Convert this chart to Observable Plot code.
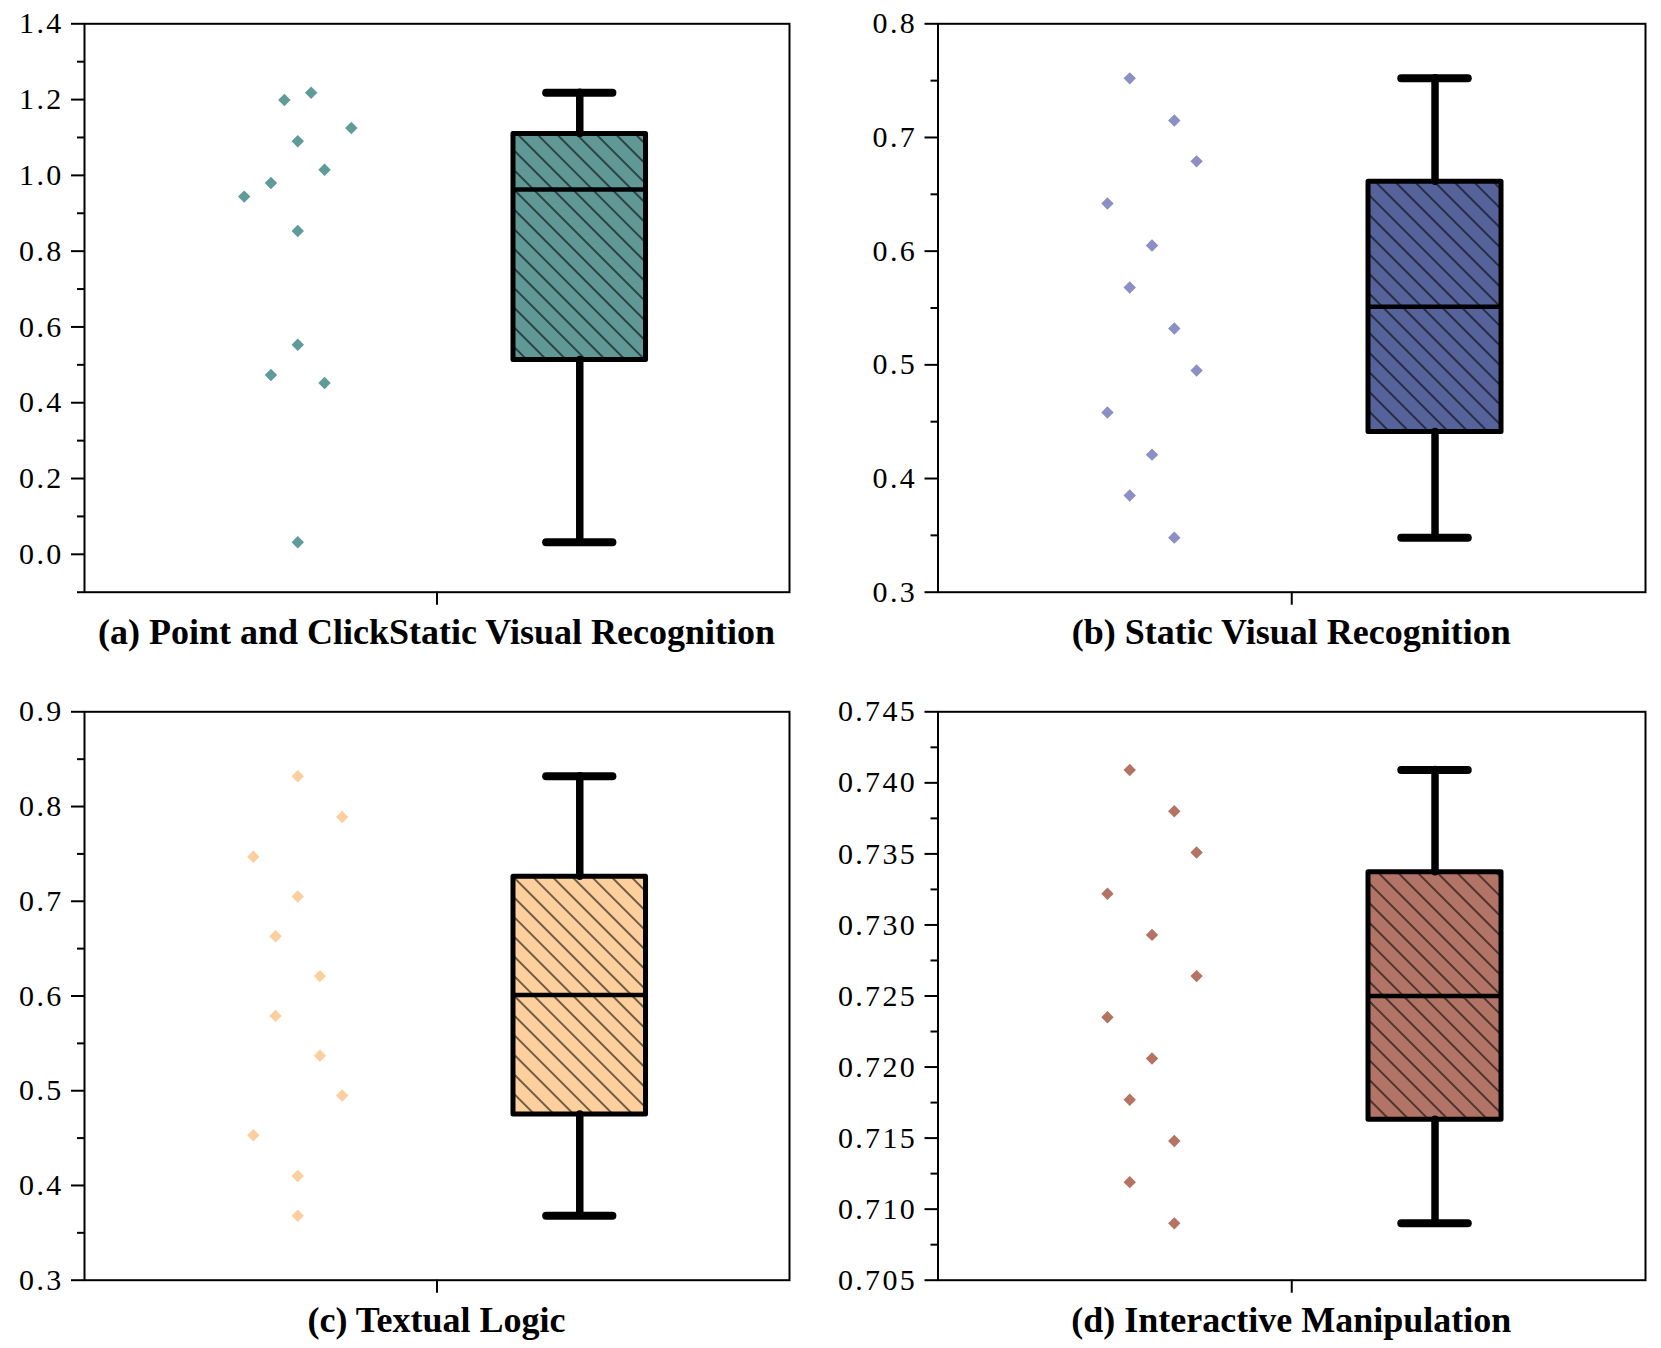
<!DOCTYPE html>
<html>
<head>
<meta charset="utf-8">
<script src="https://cdn.jsdelivr.net/npm/d3@7"></script>
<script src="https://cdn.jsdelivr.net/npm/@observablehq/plot@0.6"></script>
<style>
  html, body { margin: 0; padding: 0; background: #fff; }
  #fig { position: relative; width: 1661px; height: 1348px; background: #fff; overflow: hidden; }
  .panel { position: absolute; }
  .panel svg text { letter-spacing: 2.3px; }
  .title {
    position: absolute;
    font-family: "Liberation Serif", "Times New Roman", serif;
    font-weight: bold;
    font-size: 36px;
    line-height: 36px;
    text-align: center;
    color: #000;
    white-space: nowrap;
  }
</style>
</head>
<body>
<div id="fig"></div>
<script>
// ---------------- data ----------------
const panelTitles = [
  "(a) Point and ClickStatic Visual Recognition",
  "(b) Static Visual Recognition",
  "(c) Textual Logic",
  "(d) Interactive Manipulation"
];

// strip points (y values) and their horizontal jitter (x offsets, data units)
const pointsA = [1.218, 1.199, 1.125, 1.090, 1.015, 0.980, 0.944, 0.853, 0.553, 0.473, 0.452, 0.032];
const jitterA = [0.038, -0.038, 0.152, 0, 0.076, -0.076, -0.152, 0, 0, -0.076, 0.076, 0];

const pointsB = [0.752, 0.715, 0.679, 0.642, 0.605, 0.568, 0.532, 0.495, 0.458, 0.421, 0.385, 0.348];
const jitterB = [-0.063, 0.063, 0.126, -0.126, 0, -0.063, 0.063, 0.126, -0.126, 0, -0.063, 0.063];

const pointsC = [0.832, 0.789, 0.747, 0.705, 0.663, 0.621, 0.579, 0.537, 0.495, 0.453, 0.410, 0.368];
const jitterC = [0, 0.126, -0.126, 0, -0.063, 0.063, -0.063, 0.063, 0.126, -0.126, 0, 0];

const pointsD = [0.7409, 0.7380, 0.7351, 0.7322, 0.7293, 0.7264, 0.7235, 0.7206, 0.7177, 0.7148, 0.7119, 0.7090];
const jitterD = [-0.063, 0.063, 0.126, -0.126, 0, 0.126, -0.126, 0, -0.063, 0.063, -0.063, 0.063];

// box statistics: [min whisker, q1, median, q3, max whisker]
const boxA = [0.032, 0.513, 0.963, 1.109, 1.218];
const boxB = [0.348, 0.441, 0.551, 0.661, 0.752];
const boxC = [0.368, 0.475, 0.601, 0.726, 0.832];
const boxD = [0.7090, 0.7163, 0.7250, 0.7337, 0.7409];

// y-axis domains and tick values
const domainA = [-0.1, 1.4];
const ticksA = [0.0, 0.2, 0.4, 0.6, 0.8, 1.0, 1.2, 1.4];
const minorA = [-0.1, 0.1, 0.3, 0.5, 0.7, 0.9, 1.1, 1.3];

const domainB = [0.3, 0.8];
const ticksB = [0.3, 0.4, 0.5, 0.6, 0.7, 0.8];
const minorB = [0.35, 0.45, 0.55, 0.65, 0.75];

const domainC = [0.3, 0.9];
const ticksC = [0.3, 0.4, 0.5, 0.6, 0.7, 0.8, 0.9];
const minorC = [0.35, 0.45, 0.55, 0.65, 0.75, 0.85];

const domainD = [0.705, 0.745];
const ticksD = [0.705, 0.710, 0.715, 0.720, 0.725, 0.730, 0.735, 0.740, 0.745];
const minorD = [0.7075, 0.7125, 0.7175, 0.7225, 0.7275, 0.7325, 0.7375, 0.7425];

// ---------------- styles & layout ----------------
const boxColors   = ["#5f9895", "#55639a", "#fccf9c", "#b27466"];
const pointColors = ["#5f9b98", "#8b8fc4", "#fdcf9e", "#b57364"];
const formats = [".1f", ".1f", ".1f", ".3f"];

const stripCenter = -0.395;  // x position of the strip of points
const boxCenter = 0.405;     // x position of the box
const boxHalf = 0.188;
const capHalf = 0.094;

const layout = [
  {left: 0,   top: 0,     width: 830, height: 640, mL: 84,    mR: 41, mT: 23.3, mB: 48.3},
  {left: 830, top: 0,     width: 831, height: 640, mL: 107.5, mR: 16, mT: 23.3, mB: 48.3},
  {left: 0,   top: 687.5, width: 830, height: 640, mL: 84,    mR: 41, mT: 23.3, mB: 48.3},
  {left: 830, top: 687.5, width: 831, height: 640, mL: 107.5, mR: 16, mT: 23.3, mB: 48.3}
];

const panels = [
  {points: pointsA, jitter: jitterA, box: boxA, domain: domainA, ticks: ticksA, minor: minorA},
  {points: pointsB, jitter: jitterB, box: boxB, domain: domainB, ticks: ticksB, minor: minorB},
  {points: pointsC, jitter: jitterC, box: boxC, domain: domainC, ticks: ticksC, minor: minorC},
  {points: pointsD, jitter: jitterD, box: boxD, domain: domainD, ticks: ticksD, minor: minorD}
];

const fig = document.getElementById("fig");
const NS = "http://www.w3.org/2000/svg";

panels.forEach((p, i) => {
  const L = layout[i];
  const pts = p.points.map((v, k) => ({v, j: p.jitter[k]}));
  const stats = [{min: p.box[0], q1: p.box[1], med: p.box[2], q3: p.box[3], max: p.box[4]}];
  const hatchId = `hatch${i}`;

  const chart = Plot.plot({
    width: L.width,
    height: L.height,
    marginLeft: L.mL,
    marginRight: L.mR,
    marginTop: L.mT,
    marginBottom: L.mB,
    style: {fontFamily: "Liberation Serif, Times New Roman, serif", fontSize: "30px", overflow: "visible", maxWidth: "none", background: "transparent"},
    x: {domain: [-1, 1]},
    y: {domain: p.domain},
    marks: [
      // box fill
      Plot.rect(stats, {x1: boxCenter - boxHalf, x2: boxCenter + boxHalf, y1: "q1", y2: "q3", fill: boxColors[i]}),
      // hatch
      Plot.rect(stats, {x1: boxCenter - boxHalf, x2: boxCenter + boxHalf, y1: "q1", y2: "q3", fill: `url(#${hatchId})`}),
      // whiskers
      Plot.ruleX(stats, {x: boxCenter, y1: "q3", y2: "max", stroke: "#000", strokeWidth: 7.5, strokeLinecap: "round"}),
      Plot.ruleX(stats, {x: boxCenter, y1: "q1", y2: "min", stroke: "#000", strokeWidth: 7.5, strokeLinecap: "round"}),
      // box outline
      Plot.rect(stats, {x1: boxCenter - boxHalf, x2: boxCenter + boxHalf, y1: "q1", y2: "q3", fill: "none", stroke: "#000", strokeWidth: 5, strokeLinejoin: "round"}),
      // median
      Plot.ruleY(stats, {y: "med", x1: boxCenter - boxHalf, x2: boxCenter + boxHalf, stroke: "#000", strokeWidth: 4.5}),
      // caps
      Plot.ruleY(stats, {y: "max", x1: boxCenter - capHalf, x2: boxCenter + capHalf, stroke: "#000", strokeWidth: 8, strokeLinecap: "round"}),
      Plot.ruleY(stats, {y: "min", x1: boxCenter - capHalf, x2: boxCenter + capHalf, stroke: "#000", strokeWidth: 8, strokeLinecap: "round"}),
      // strip points
      Plot.dot(pts, {x: d => stripCenter + d.j, y: "v", symbol: "diamond2", r: 5.6, fill: pointColors[i], stroke: "none"}),
      // axes
      Plot.axisY({ticks: p.ticks, tickSize: 13, tickPadding: 8, strokeWidth: 2, stroke: "#000", fill: "#000", tickFormat: d3.format(formats[i]), fontSize: 30, label: null}),
      Plot.axisY({ticks: p.minor, tickSize: 7, strokeWidth: 2, stroke: "#000", tickFormat: () => "", label: null}),
      Plot.axisX({ticks: [0], tickSize: 13, strokeWidth: 2, stroke: "#000", tickFormat: () => "", label: null}),
      Plot.frame({stroke: "#000", strokeWidth: 2})
    ]
  });

  // hatch pattern definition
  const defs = document.createElementNS(NS, "defs");
  defs.innerHTML = `<pattern id="${hatchId}" patternUnits="userSpaceOnUse" width="13.9" height="13.9" patternTransform="rotate(-45)"><line x1="6.95" y1="-1" x2="6.95" y2="15" stroke="#000" stroke-width="1.1"/></pattern>`;
  chart.insertBefore(defs, chart.firstChild);

  const wrap = document.createElement("div");
  wrap.className = "panel";
  wrap.style.left = L.left + "px";
  wrap.style.top = L.top + "px";
  wrap.appendChild(chart);
  fig.appendChild(wrap);

  const title = document.createElement("div");
  title.className = "title";
  title.textContent = panelTitles[i];
  const frameW = L.width - L.mL - L.mR;
  title.style.left = (L.left + L.mL) + "px";
  title.style.width = frameW + "px";
  title.style.top = (L.top + L.height - 26) + "px";
  fig.appendChild(title);
});
</script>
</body>
</html>
